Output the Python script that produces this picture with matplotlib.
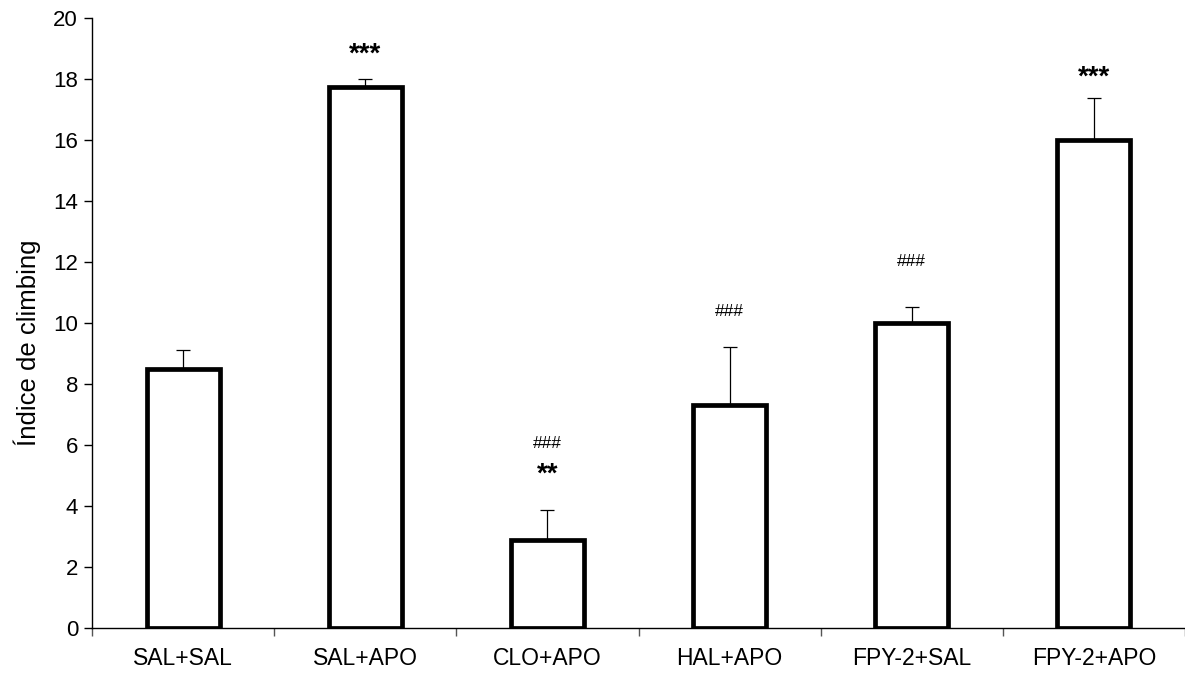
import matplotlib
matplotlib.use("Agg")
import matplotlib.pyplot as plt
import numpy as np

categories = ["SAL+SAL", "SAL+APO", "CLO+APO", "HAL+APO", "FPY-2+SAL", "FPY-2+APO"]
means = [8.5, 17.75, 2.9, 7.3, 10.0, 16.0]
sem = [0.62, 0.25, 0.97, 1.9, 0.53, 1.38]
ylabel = "Índice de climbing"

# annotations: (category index, text, y, kind)
annotations = [
    (1, "***", 19.1, "star"),
    (2, "###", 6.05, "hash"),
    (2, "**", 5.34, "star"),
    (3, "###", 10.39, "hash"),
    (4, "###", 12.03, "hash"),
    (5, "***", 18.36, "star"),
]

plt.rcParams['font.family'] = ['Liberation Sans', 'DejaVu Sans']

fig = plt.figure(figsize=(11.85, 6.75), dpi=100)
ax = fig.add_axes([92/1185, 1-628/675, 1-92/1185, (628-18)/675])

x = np.arange(len(categories))
ax.bar(x, means, width=0.40, color="white", edgecolor="black", linewidth=3.4, zorder=3)
ax.errorbar(x, means, yerr=[np.zeros(len(sem)), sem], fmt="none", ecolor="black",
            elinewidth=0.9, capsize=5, capthick=0.9, zorder=2)

for i, txt, yv, kind in annotations:
    if kind == "star":
        ax.text(i, yv - 0.3, txt, ha="center", va="center", fontsize=20, fontweight="bold")
    else:
        ax.text(i, yv, txt, ha="center", va="center", fontsize=12.5)

ax.set_xlim(-0.5, len(categories) - 0.5)
ax.set_ylim(0, 20)
ax.set_yticks(np.arange(0, 21, 2))
ax.set_xticks(x)
ax.set_xticklabels(categories, fontsize=16.5)
ax.set_xticks(np.arange(-0.5, len(categories), 1.0), minor=True)
ax.tick_params(axis="x", which="major", length=0, pad=14)
ax.tick_params(axis="x", which="minor", length=6, width=1, direction="out", color="#555555")
ax.tick_params(axis="y", labelsize=16, length=6, width=1, pad=4)

for s in ["top", "right"]:
    ax.spines[s].set_visible(False)
for s in ["left", "bottom"]:
    ax.spines[s].set_linewidth(1)

ax.set_ylabel(ylabel, fontsize=18.5)
ax.yaxis.set_label_coords(-0.047, 0.467)

fig.savefig("out.png", dpi=100)
